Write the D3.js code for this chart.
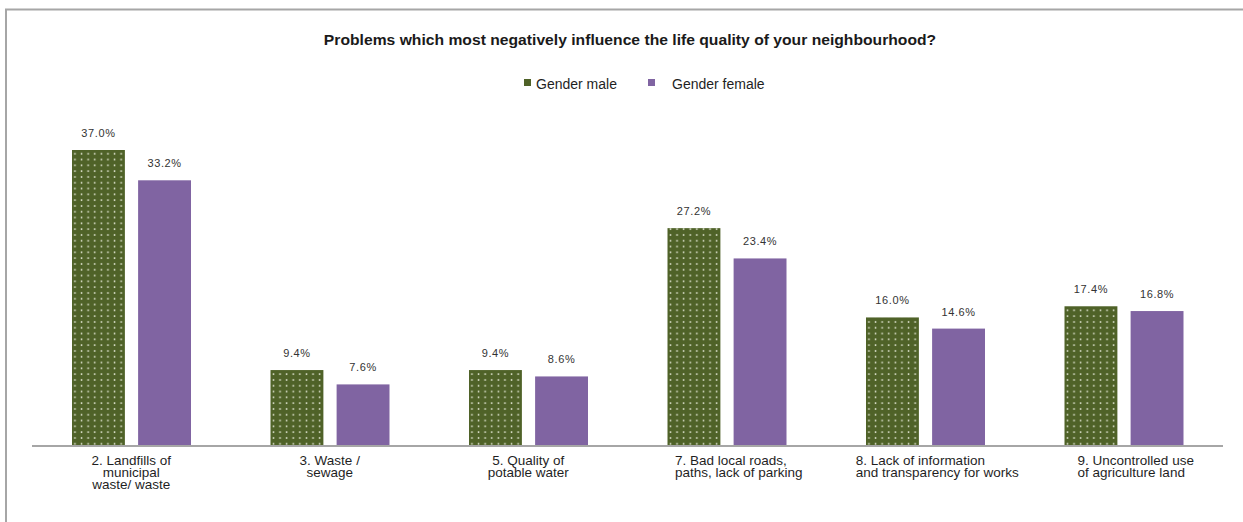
<!DOCTYPE html>
<html>
<head>
<meta charset="utf-8">
<script src="https://cdn.jsdelivr.net/npm/d3@7"></script>
<style>
  html, body { margin: 0; padding: 0; background: #ffffff; }
  svg { display: block; }
</style>
</head>
<body>
<svg id="chart" width="1243" height="522"></svg>
<script>
// Survey results by gender (share of respondents, %)
const categories = [
  ["2. Landfills of", "municipal", "waste/ waste"],
  ["3. Waste  /", "sewage"],
  ["5. Quality of", "potable water"],
  ["7. Bad local roads,", "paths, lack of parking"],
  ["8. Lack of information", "and transparency for works"],
  ["9. Uncontrolled use", "of agriculture land"]
];
const seriesNames = ["Gender male", "Gender female"];
const maleValues = [37.0, 9.4, 9.4, 27.2, 16.0, 17.4];
const femaleValues = [33.2, 7.6, 8.6, 23.4, 14.6, 16.8];
const titleText = "Problems which most negatively influence the life quality of your neighbourhood?";
// label alignment per category block ("middle" = each line centred, "start" = lines left-aligned)
const labelAlign = ["middle", "middle", "middle", "start", "start", "start"];

const W = 1243, H = 522;
const green = "#4f6228", purple = "#8064a2", gridGray = "#a6a6a6", textCol = "#1f1f1f";
const font = "'Liberation Sans', Arial, sans-serif";
const svg = d3.select("#chart");

// dotted fill for the male series
const defs = svg.append("defs");
const pat = defs.append("pattern")
  .attr("id", "dots").attr("patternUnits", "userSpaceOnUse")
  .attr("width", 6.6).attr("height", 5.8);
pat.append("rect").attr("width", 6.6).attr("height", 5.8).attr("fill", green);
pat.append("rect").attr("x", 2.6).attr("y", 2.2).attr("width", 1.5).attr("height", 1.5).attr("fill", "#eef1e2");

// outer frame (top + left edges visible)
svg.append("path")
  .attr("d", `M6,${H} V9.5 H${W}`)
  .attr("fill", "none").attr("stroke", gridGray).attr("stroke-width", 2);

// scales
const plotLeft = 32, plotRight = 1223, baseY = 445;
const x0 = d3.scaleBand().domain(d3.range(categories.length)).range([plotLeft, plotRight]).paddingInner(0).paddingOuter(0);
const x1 = d3.scaleBand().domain([0, 1]).range([40, 159]).paddingInner(0.2);
const y = d3.scaleLinear().domain([0, 37]).range([baseY, 150]);

const rows = categories.map((c, i) => ({ i, vals: [maleValues[i], femaleValues[i]] }));

const groups = svg.append("g").selectAll("g").data(rows).join("g")
  .attr("transform", d => `translate(${x0(d.i)},0)`);

groups.selectAll("rect").data(d => d.vals.map((v, k) => ({ v, k }))).join("rect")
  .attr("x", d => x1(d.k))
  .attr("y", d => y(d.v))
  .attr("width", x1.bandwidth())
  .attr("height", d => baseY - y(d.v))
  .attr("fill", d => d.k === 0 ? "url(#dots)" : purple);

// value labels
groups.selectAll("text.val").data(d => d.vals.map((v, k) => ({ v, k }))).join("text")
  .attr("class", "val")
  .attr("x", d => x1(d.k) + x1.bandwidth() / 2)
  .attr("y", d => y(d.v) - 13)
  .attr("text-anchor", "middle")
  .attr("font-family", font)
  .attr("font-size", 11)
  .attr("letter-spacing", 0.6)
  .attr("fill", "#333333")
  .text(d => d.v.toFixed(1) + "%");

// category axis line
svg.append("line")
  .attr("x1", plotLeft).attr("x2", plotRight)
  .attr("y1", baseY + 1).attr("y2", baseY + 1)
  .attr("stroke", gridGray).attr("stroke-width", 2);

// category labels
groups.each(function (d) {
  const g = d3.select(this);
  const cx = x0.bandwidth() / 2;
  const t = g.append("text")
    .attr("font-family", font)
    .attr("font-size", 13.5)
    .attr("fill", textCol);
  const spans = t.selectAll("tspan").data(categories[d.i]).join("tspan")
    .attr("y", (s, j) => 465 + j * 12)
    .text(s => s);
  if (labelAlign[d.i] === "middle") {
    t.attr("text-anchor", "middle");
    spans.attr("x", cx);
  } else {
    const wMax = d3.max(spans.nodes(), n => n.getComputedTextLength());
    t.attr("text-anchor", "start");
    spans.attr("x", cx - wMax / 2 + 12);
  }
});

// title (slightly widened lettering)
svg.append("text")
  .attr("transform", "translate(630,45) scale(1.12,1)")
  .attr("text-anchor", "middle")
  .attr("font-family", font)
  .attr("font-weight", "bold")
  .attr("font-size", 14)
  .attr("fill", "#1a1a1a")
  .text(titleText);

// legend
const legend = svg.append("g").attr("transform", "translate(0,84)");
const legendItems = [
  { name: seriesNames[0], fill: green, mx: 524, tx: 536 },
  { name: seriesNames[1], fill: purple, mx: 648, tx: 672 }
];
legendItems.forEach(it => {
  legend.append("rect").attr("x", it.mx).attr("y", -5).attr("width", 7).attr("height", 7).attr("fill", it.fill);
  legend.append("text").attr("x", it.tx).attr("y", 5)
    .attr("font-family", font)
    .attr("font-size", 14).attr("fill", textCol)
    .text(it.name);
});
</script>
</body>
</html>
